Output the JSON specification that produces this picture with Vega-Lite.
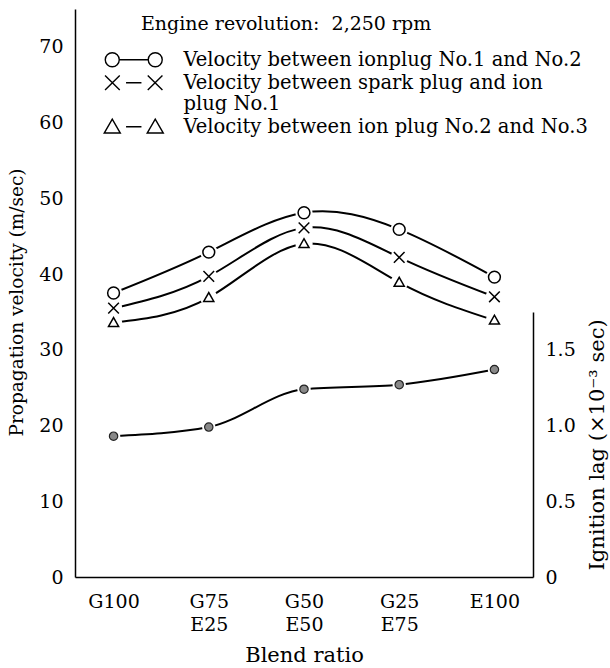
{
  "$schema": "https://vega.github.io/schema/vega-lite/v6.json",
  "width": 458,
  "height": 568,
  "autosize": {"type": "none"},
  "padding": {"left": 75, "top": 9, "right": 77, "bottom": 91},
  "background": "white",
  "title": {
    "text": "Engine revolution:\u00a0 2,250 rpm",
    "anchor": "start",
    "frame": "group",
    "dx": 66,
    "dy": 40,
    "offset": 0,
    "baseline": "alphabetic",
    "font": "DejaVu Serif",
    "fontSize": 19,
    "fontWeight": "normal",
    "color": "black"
  },
  "datasets": {
    "velocity": [
      {"blend": "G100", "series": "Velocity between ionplug No.1 and No.2", "velocity": 37.5},
      {"blend": "G75 E25", "series": "Velocity between ionplug No.1 and No.2", "velocity": 42.9},
      {"blend": "G50 E50", "series": "Velocity between ionplug No.1 and No.2", "velocity": 48.1},
      {"blend": "G25 E75", "series": "Velocity between ionplug No.1 and No.2", "velocity": 45.9},
      {"blend": "E100", "series": "Velocity between ionplug No.1 and No.2", "velocity": 39.6},
      {"blend": "G100", "series": "Velocity between spark plug and ion plug No.1", "velocity": 35.5},
      {"blend": "G75 E25", "series": "Velocity between spark plug and ion plug No.1", "velocity": 39.7},
      {"blend": "G50 E50", "series": "Velocity between spark plug and ion plug No.1", "velocity": 46.1},
      {"blend": "G25 E75", "series": "Velocity between spark plug and ion plug No.1", "velocity": 42.2},
      {"blend": "E100", "series": "Velocity between spark plug and ion plug No.1", "velocity": 37.0},
      {"blend": "G100", "series": "Velocity between ion plug No.2 and No.3", "velocity": 33.6},
      {"blend": "G75 E25", "series": "Velocity between ion plug No.2 and No.3", "velocity": 36.9},
      {"blend": "G50 E50", "series": "Velocity between ion plug No.2 and No.3", "velocity": 44.0},
      {"blend": "G25 E75", "series": "Velocity between ion plug No.2 and No.3", "velocity": 38.9},
      {"blend": "E100", "series": "Velocity between ion plug No.2 and No.3", "velocity": 33.9}
    ],
    "lag": [
      {"blend": "G100", "lag": 0.93},
      {"blend": "G75 E25", "lag": 0.99},
      {"blend": "G50 E50", "lag": 1.24},
      {"blend": "G25 E75", "lag": 1.27},
      {"blend": "E100", "lag": 1.37}
    ]
  },
  "encoding": {
    "x": {
      "field": "blend",
      "type": "nominal",
      "scale": {"type": "point", "padding": 0.405, "domain": ["G100", "G75 E25", "G50 E50", "G25 E75", "E100"]},
      "axis": {
        "title": "Blend ratio",
        "labelAngle": 0,
        "labelExpr": "split(datum.label, ' ')",
        "labelBaseline": "top",
        "labelLineHeight": 23,
        "tickSize": 0,
        "labelPadding": 15,
        "titlePadding": 10,
        "encode": {"ticks": {"update": {"y2": {"value": -8}}}}
      }
    }
  },
  "layer": [
    {
      "data": {"name": "velocity"},
      "encoding": {
        "y": {
          "field": "velocity",
          "type": "quantitative",
          "scale": {"domain": [0, 75], "nice": false, "zero": true},
          "axis": {
            "title": "Propagation velocity (m/sec)",
            "titleFontSize": 18.5,
            "values": [0, 10, 20, 30, 40, 50, 60, 70],
            "tickSize": 0,
            "labelPadding": 12,
            "titlePadding": 12,
            "titleY": 293,
            "encode": {"ticks": {"update": {"x2": {"value": 8}}}}
          }
        }
      },
      "layer": [
        {
          "mark": {"type": "line", "interpolate": "natural", "color": "black", "strokeWidth": 2},
          "encoding": {"detail": {"field": "series", "type": "nominal"}}
        },
        {
          "mark": {"type": "point", "filled": true, "fill": "white", "strokeWidth": 0, "size": 300, "opacity": 1}
        },
        {
          "mark": {"type": "point", "filled": true, "fill": "white", "stroke": "black", "strokeWidth": 1.5, "size": 140, "opacity": 1},
          "encoding": {
            "shape": {
              "field": "series",
              "type": "nominal",
              "scale": {
                "domain": ["Velocity between ionplug No.1 and No.2", "Velocity between spark plug and ion plug No.1", "Velocity between ion plug No.2 and No.3"],
                "range": ["circle", "M-0.9,-0.9L0.9,0.9M-0.9,0.9L0.9,-0.9", "M-0.85,0.65L0,-0.85L0.85,0.65Z"]
              },
              "legend": null
            }
          }
        },
        {
          "mark": {"type": "point", "filled": false, "stroke": "black", "strokeWidth": 1.4, "size": 196, "opacity": 0},
          "encoding": {
            "shape": {
              "field": "series",
              "type": "nominal",
              "scale": {
                "domain": ["Velocity between ionplug No.1 and No.2", "Velocity between spark plug and ion plug No.1", "Velocity between ion plug No.2 and No.3"],
                "range": [
                  "M-2.07,0A1,1,0,1,1,-4.07,0A1,1,0,1,1,-2.07,0ZM4.07,0A1,1,0,1,1,2.07,0A1,1,0,1,1,4.07,0ZM-2.07,0L2.07,0",
                  "M-4.1,-1.05L-2.0,1.05M-4.1,1.05L-2.0,-1.05M2.0,-1.05L4.1,1.05M2.0,1.05L4.1,-1.05M-1.1,0L1.1,0",
                  "M-4.22,0.9L-3.07,-1.1L-1.92,0.9ZM1.92,0.9L3.07,-1.1L4.22,0.9ZM-1.1,0L1.1,0"
                ]
              },
              "legend": {
                "orient": "none",
                "legendX": 49,
                "legendY": 41,
                "title": null,
                "symbolSize": 196,
                "symbolOpacity": 1,
                "symbolStrokeWidth": 1.4,
                "symbolStrokeColor": "black",
                "symbolFillColor": "white",
                "labelFont": "DejaVu Serif",
                "labelFontSize": 19.5,
                "labelColor": "black",
                "labelLimit": 0,
                "labelOffset": 40,
                "rowPadding": 2,
                "labelExpr": "datum.label == 'Velocity between spark plug and ion plug No.1' ? ['Velocity between spark plug and ion', 'plug No.1'] : datum.label",
                "encode": {
                  "labels": {"update": {"lineHeight": {"value": 21}}}
                }
              }
            }
          }
        }
      ],
      "resolve": {"scale": {"shape": "independent"}}
    },
    {
      "data": {"name": "lag"},
      "encoding": {
        "y": {
          "field": "lag",
          "type": "quantitative",
          "scale": {"domain": [0, 1.75], "nice": false, "range": [568, 303]},
          "axis": {
            "orient": "right",
            "title": "Ignition lag (×10⁻³ sec)",
            "titleAngle": 270,
            "titleBaseline": "top",
            "values": [0, 0.5, 1, 1.5],
            "labelExpr": "datum.value == 0 ? '0' : format(datum.value, '.1f')",
            "tickSize": 0,
            "labelPadding": 12,
            "titlePadding": 11,
            "encode": {"ticks": {"update": {"x2": {"value": -8}}}}
          }
        }
      },
      "layer": [
        {
          "mark": {"type": "line", "interpolate": "monotone", "color": "black", "strokeWidth": 2}
        },
        {
          "mark": {"type": "point", "filled": true, "fill": "white", "strokeWidth": 0, "size": 180, "opacity": 1}
        },
        {
          "mark": {"type": "point", "filled": true, "fill": "#888888", "stroke": "#222222", "strokeWidth": 1.2, "size": 70, "opacity": 1}
        }
      ]
    }
  ],
  "resolve": {"scale": {"y": "independent"}},
  "config": {
    "view": {"stroke": null},
    "axis": {
      "grid": false,
      "domainColor": "black",
      "domainWidth": 1.5,
      "tickColor": "black",
      "tickWidth": 1.5,
      "labelFont": "DejaVu Serif",
      "labelFontSize": 19,
      "labelColor": "black",
      "titleFont": "DejaVu Serif",
      "titleFontSize": 21,
      "titleFontWeight": "normal",
      "titleColor": "black"
    }
  }
}
